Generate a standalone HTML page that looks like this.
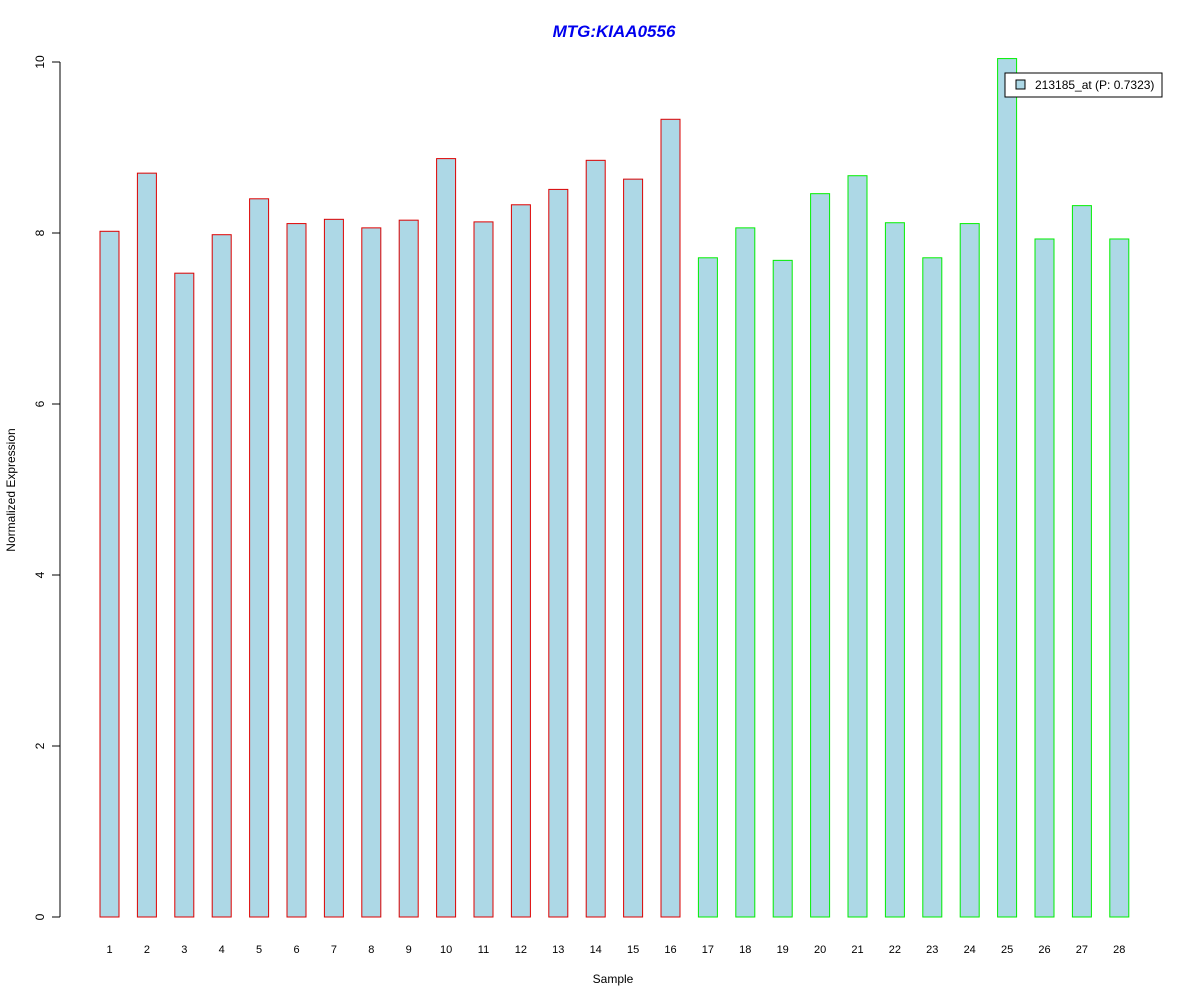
<!DOCTYPE html>
<html><head><meta charset="utf-8"><style>body{margin:0;background:#fff}svg{display:block;font-family:"Liberation Sans",Arial,sans-serif}</style></head>
<body>
<svg id="chart" width="1200" height="1000" xmlns="http://www.w3.org/2000/svg">
<text x="614" y="37" text-anchor="middle" font-size="17" font-weight="bold" font-style="italic" fill="#0000ee">MTG:KIAA0556</text>
<text transform="translate(15,490) rotate(-90)" text-anchor="middle" font-size="12">Normalized Expression</text>
<text x="613" y="983" text-anchor="middle" font-size="12">Sample</text>
<g id="yaxis"></g>
<g id="bars"></g>
<g id="xlabels"></g>
<g>
<rect x="1005" y="73" width="157" height="24" fill="#fff" stroke="#000"/>
<rect x="1016" y="80" width="9" height="9" fill="#add8e6" stroke="#000"/>
<text x="1035" y="89" font-size="12">213185_at (P: 0.7323)</text>
</g>
</svg>
<script>
const categories = ["1","2","3","4","5","6","7","8","9","10","11","12","13","14","15","16","17","18","19","20","21","22","23","24","25","26","27","28"];
const values = [8.02,8.70,7.53,7.98,8.40,8.11,8.16,8.06,8.15,8.87,8.13,8.33,8.51,8.85,8.63,9.33,7.71,8.06,7.68,8.46,8.67,8.12,7.71,8.11,10.04,7.93,8.32,7.93];
const groups = [1,1,1,1,1,1,1,1,1,1,1,1,1,1,1,1,2,2,2,2,2,2,2,2,2,2,2,2];
const yTicks = [0,2,4,6,8,10];
const NS="http://www.w3.org/2000/svg";
const y = v => 917 - v*85.5;
const x = i => 109.5 + i*37.4;
function mk(t,a,p){const e=document.createElementNS(NS,t);for(const k in a)e.setAttribute(k,a[k]);p.appendChild(e);return e;}
const ya=document.getElementById('yaxis');
mk('line',{x1:60,x2:60,y1:y(0),y2:y(10),stroke:'#000'},ya);
yTicks.forEach(t=>{
  const l=mk('line',{x1:52,x2:60,y1:y(t),y2:y(t),stroke:'#000'},ya);
  
  
  const tx=mk('text',{transform:`translate(44,${y(t)}) rotate(-90)`,'text-anchor':'middle','font-size':12},ya);
  tx.textContent=t;
  
  
});
const bg=document.getElementById('bars'), xl=document.getElementById('xlabels');
values.forEach((v,i)=>{
  const r=mk('rect',{x:x(i)-9.5,y:y(v),width:19,height:y(0)-y(v),fill:'#add8e6',stroke:groups[i]===1?'#dd0000':'#00ee00'},bg);
  
  
  const t=mk('text',{x:x(i),y:953,'text-anchor':'middle','font-size':11},xl);
  t.textContent=categories[i];
  
  
});
</script>
</body></html>
